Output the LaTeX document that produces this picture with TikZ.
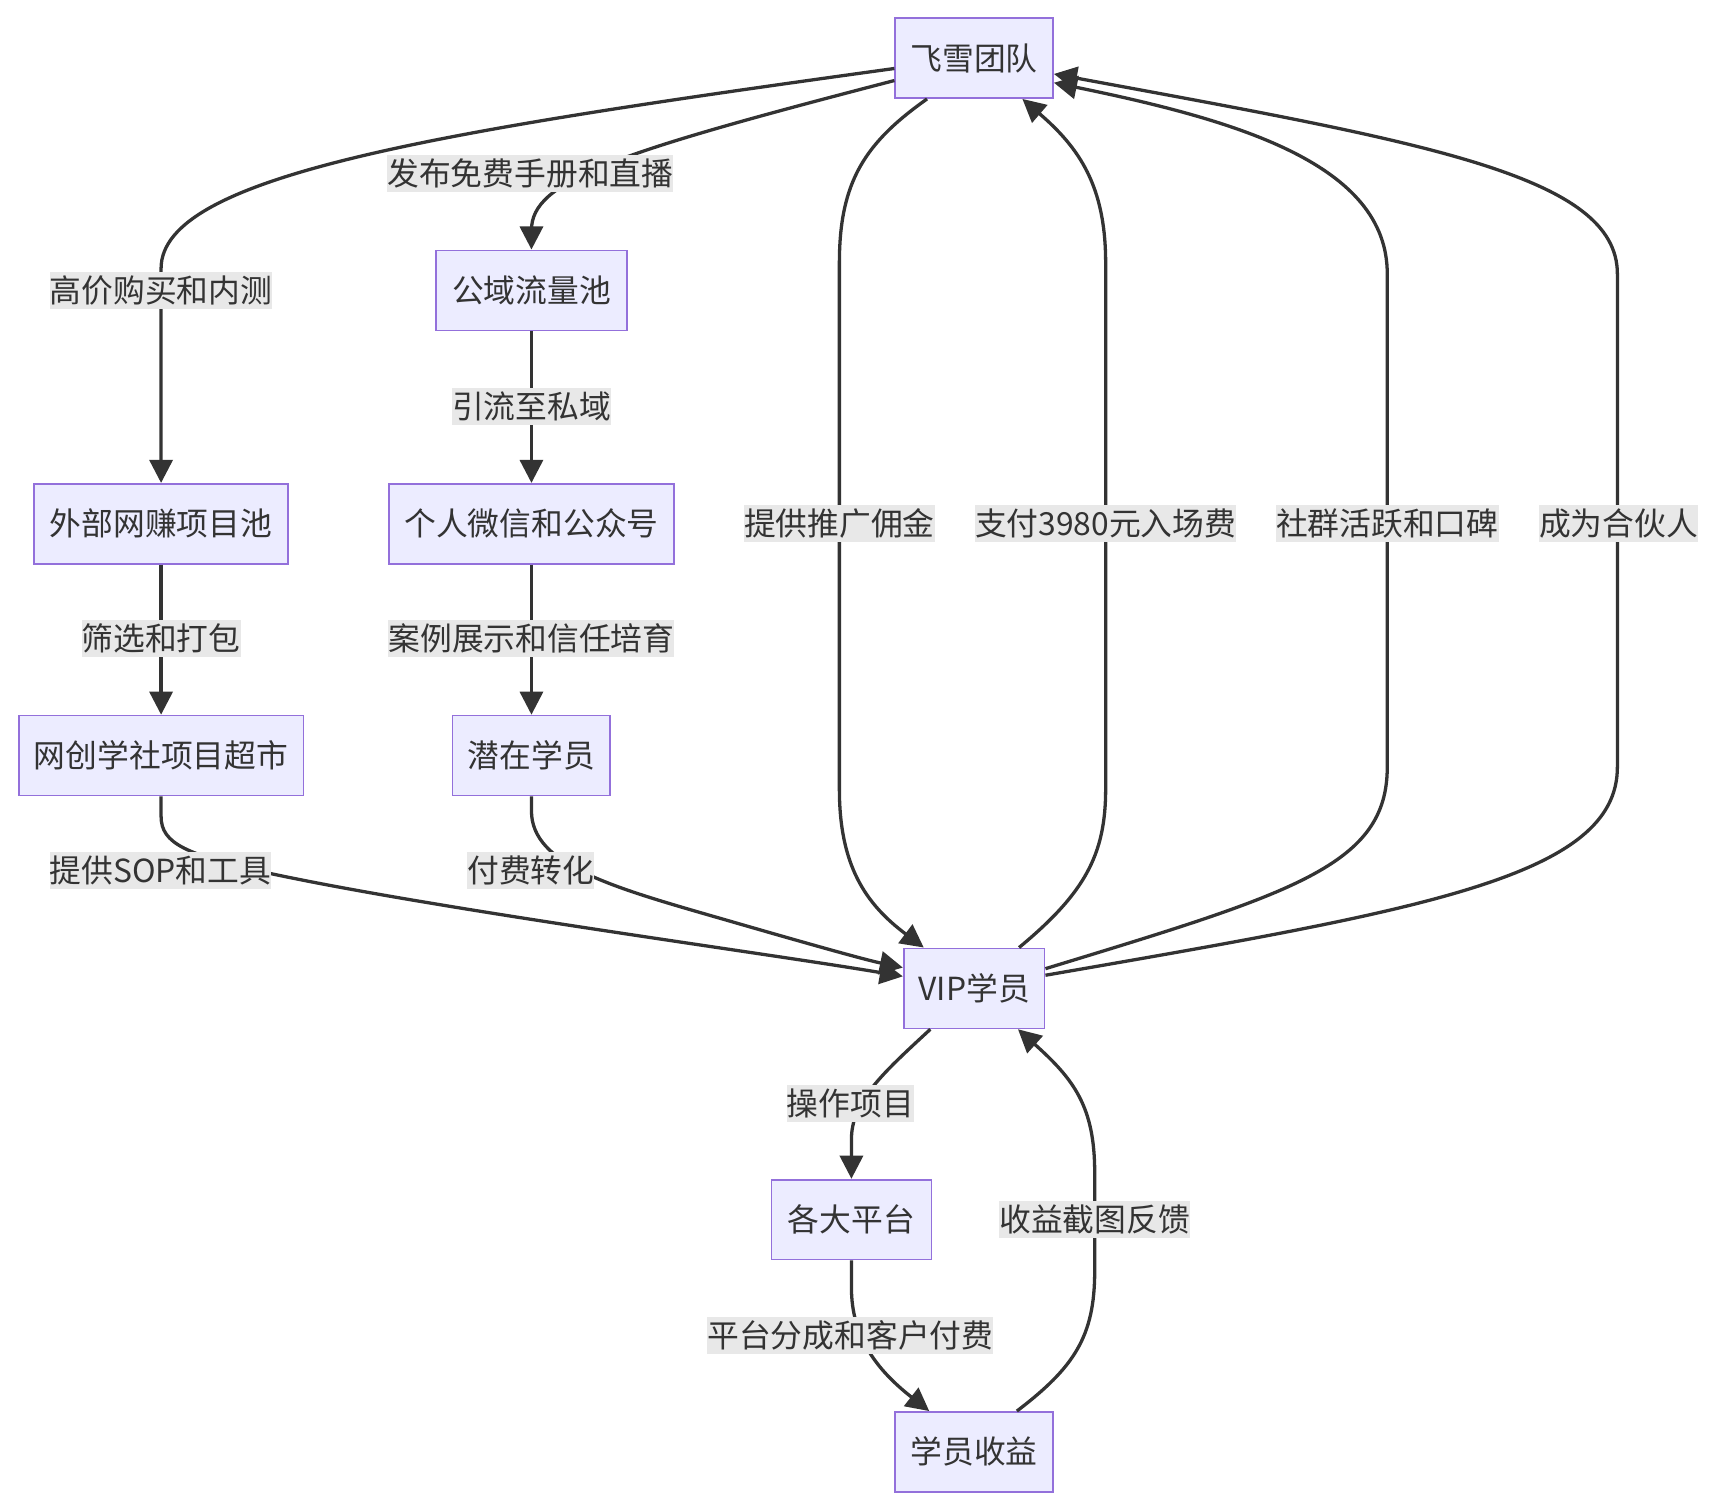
\documentclass[tikz,border=0pt]{standalone}
\usepackage{fontspec}
\setmainfont{Noto Sans CJK SC}
\usetikzlibrary{arrows.meta}
\definecolor{nodefill}{HTML}{ECECFF}
\definecolor{nodeline}{HTML}{9370DB}
\definecolor{ink}{HTML}{333333}
\definecolor{lblbg}{HTML}{E8E8E8}
\begin{document}
\begin{tikzpicture}[x=1pt,y=-1pt,
  box/.style={draw=nodeline, fill=nodefill, line width=1.6pt, minimum height=73pt,
    inner xsep=13.5pt, inner ysep=0pt, text height=25.5pt, text depth=3.5pt,
    text=ink, font=\fontsize{29pt}{34pt}\selectfont},
  lbl/.style={fill=lblbg, inner xsep=0pt, inner ysep=2.5pt, text height=25.5pt,
    text depth=3.5pt, text=ink, font=\fontsize{29pt}{34pt}\selectfont},
  link/.style={draw=ink, line width=3pt, -{Triangle[length=21pt,width=21pt]}},
]
\useasboundingbox[fill=white] (0,0) rectangle (1566,1378);

% nodes
\node[box, minimum width=144pt] (A) at (889,53) {飞雪团队};
\node[box, minimum width=174pt] (B) at (485,265) {公域流量池};
\node[box, minimum width=232pt] (C) at (147,478) {外部网赚项目池};
\node[box, minimum width=260pt] (D) at (485,478) {个人微信和公众号};
\node[box, minimum width=260pt] (E) at (147,689.5) {网创学社项目超市};
\node[box, minimum width=144pt] (F) at (485,689.5) {潜在学员};
\node[box, minimum width=128pt] (G) at (889,902) {VIP学员};
\node[box, minimum width=146pt] (H) at (777,1113) {各大平台};
\node[box, minimum width=144pt] (I) at (889,1325) {学员收益};

% edges
\draw[link] ([yshift=-9.5pt]A.west) .. controls (400,120) and (147,160) .. (147,245) -- (C.north);
\draw[link] ([yshift=-20.5pt]A.west) .. controls (560,140) and (485,165) .. (485,210) -- (B.north);
\draw[link] (B.south) -- (D.north);
\draw[link] (C.south) -- (E.north);
\draw[link] (D.south) -- (F.north);
\draw[link] (E.south) -- (147,745) .. controls (147,770) and (170,780) .. (246,797)
   .. controls (400,830) and (700,870) .. ([yshift=11pt]G.west);
\draw[link] (F.south) -- (485,740) .. controls (485,790) and (560,810) .. (664,840)
   .. controls (740,862) and (790,876) .. ([yshift=19pt]G.west);
\draw[link] ([xshift=-43pt]A.south) .. controls (790,130) and (766,165) .. (766,240) -- (766,720)
   .. controls (766,790) and (790,825) .. ([xshift=-46pt]G.north);
\draw[link] ([xshift=41pt]G.north) .. controls (990,815) and (1009,780) .. (1009,720) -- (1009,240)
   .. controls (1009,170) and (985,135) .. ([xshift=44pt]A.south);
\draw[link] ([yshift=18pt]G.east) .. controls (1180,815) and (1266,790) .. (1266,700) -- (1266,250)
   .. controls (1266,150) and (1130,110) .. ([yshift=-22.5pt]A.east);
\draw[link] ([yshift=12pt]G.east) .. controls (1300,830) and (1476,800) .. (1476,700) -- (1476,250)
   .. controls (1476,160) and (1300,130) .. ([yshift=-14.5pt]A.east);
\draw[link] ([xshift=-40pt]G.south) .. controls (805,980) and (777,1005) .. (777,1040) -- (H.north);
\draw[link] (H.south) -- (777,1175) .. controls (777,1220) and (800,1250) .. ([xshift=-41pt]I.north);
\draw[link] ([xshift=39pt]I.north) .. controls (980,1248) and (999,1220) .. (999,1160) -- (999,1070)
   .. controls (999,1010) and (980,985) .. ([xshift=40pt]G.south);

% edge labels
\node[lbl] (l1) at (147,265) {高价购买和内测};
\node[lbl] (l2) at (484,158.5) {发布免费手册和直播};
\node[lbl] (l3) at (485,371) {引流至私域};
\node[lbl] (l4) at (147,583) {筛选和打包};
\node[lbl] (l5) at (485,583) {案例展示和信任培育};
\node[lbl] (l6) at (146.5,794.5) {提供SOP和工具};
\node[lbl] (l7) at (484.5,794.5) {付费转化};
\node[lbl] (l8) at (766,477.5) {提供推广佣金};
\node[lbl] (l9) at (1009,477.5) {支付3980元入场费};
\node[lbl] (l10) at (1266,477.5) {社群活跃和口碑};
\node[lbl] (l11) at (1477,477.5) {成为合伙人};
\node[lbl] (l12) at (776,1007) {操作项目};
\node[lbl] (l13) at (999,1113) {收益截图反馈};
\node[lbl] (l14) at (776,1219) {平台分成和客户付费};
\end{tikzpicture}
\end{document}
